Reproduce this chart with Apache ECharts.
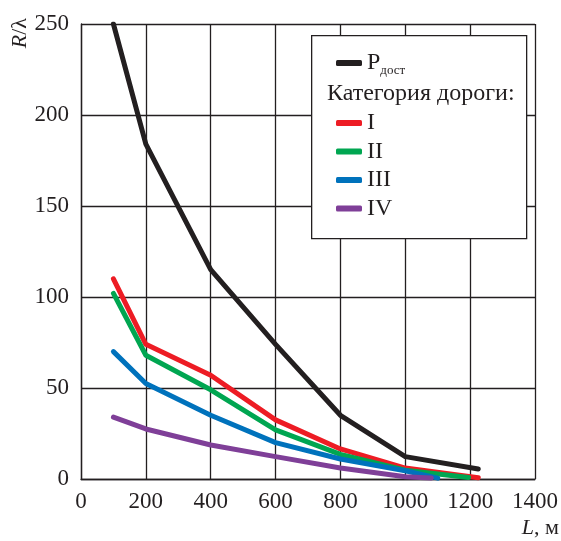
<!DOCTYPE html>
<html><head><meta charset="utf-8">
<script src="https://cdn.jsdelivr.net/npm/echarts@6/dist/echarts.min.js"></script>
<style>html,body{margin:0;padding:0;background:#fff}#c{width:561px;height:541px}</style>
</head><body><div id="c"></div>
<script>
const xTicks = [0,200,400,600,800,1000,1200,1400];
const yTicks = [0,50,100,150,200,250];
const seriesNames = ['Pдост','I','II','III','IV'];
const lenP   = [100,200,400,600,800,1000,1225];
const valP   = [250,184,115,74,35,12.3,5.5];
const lenI   = [100,200,400,600,800,1000,1225];
const valI   = [110,74,57,32.5,16.5,6,0.7];
const lenII  = [100,200,400,600,800,1000,1195];
const valII  = [102,68,49,27,13.5,4.8,0.8];
const lenIII = [100,200,400,600,800,1000,1100];
const valIII = [70,52.5,35,20,11,4.5,0.5];
const lenIV  = [100,200,400,600,800,1000,1080];
const valIV  = [34,27.5,18.7,12.3,6,1.2,0.5];
const colors = ['#231f20','#ed1c24','#00a651','#0072bc','#7f3f98'];

const pairs = (xs, ys) => xs.map((x,i)=>[x, ys[i]]);
const allData = [pairs(lenP,valP),pairs(lenI,valI),pairs(lenII,valII),pairs(lenIII,valIII),pairs(lenIV,valIV)];
const font = 'Liberation Serif';

const chart = echarts.init(document.getElementById('c'), null, {renderer:'canvas'});
chart.setOption({
  backgroundColor:'#fff',
  animation:false,
  grid:{left:81,right:26,top:24,bottom:62,containLabel:false},
  xAxis:{type:'value',min:0,max:1400,interval:200,
    axisLine:{show:true,onZero:false,lineStyle:{color:'#231f20',width:1.3}},
    axisTick:{show:false},
    axisLabel:{fontFamily:font,fontSize:23,color:'#231f20',margin:11,
      formatter:v=>xTicks.includes(v)?String(v):''},
    splitLine:{show:true,lineStyle:{color:'#231f20',width:1.3}}},
  yAxis:{type:'value',min:0,max:250,interval:50,
    axisLine:{show:true,lineStyle:{color:'#231f20',width:1.3}},
    axisTick:{show:false},
    axisLabel:{fontFamily:font,fontSize:23,color:'#231f20',margin:12,
      formatter:v=>yTicks.includes(v)?String(v):''},
    splitLine:{show:true,lineStyle:{color:'#231f20',width:1.3}}},
  legend:[
    {data:[seriesNames[0]],orient:'vertical',left:331,top:46,itemWidth:26,itemHeight:6,itemGap:8,
     icon:'roundRect',z:10,
     formatter:()=>'{a|P}{b|дост}',
     textStyle:{fontFamily:font,fontSize:24,color:'#231f20',
       rich:{a:{fontFamily:font,fontSize:24,color:'#231f20'},
             b:{fontFamily:font,fontSize:13,color:'#231f20',padding:[16,0,0,0]}}}},
    {data:seriesNames.slice(1),orient:'vertical',left:331,top:106,itemWidth:26,itemHeight:6,itemGap:4.5,
     icon:'roundRect',z:10,
     textStyle:{fontFamily:font,fontSize:24,color:'#231f20',lineHeight:24}}
  ],
  graphic:[
    {type:'rect',left:311,top:35,shape:{width:215,height:203},
     style:{fill:'#fff',stroke:'#231f20',lineWidth:1.3},z:3},
    {type:'text',left:327,top:82,style:{text:'Категория дороги:',font:'24px "Liberation Serif"',fill:'#231f20'},z:10},
    {type:'text',left:9,top:18,rotation:Math.PI/2,
     style:{rich:{i:{fontFamily:font,fontStyle:'italic',fontSize:22,fill:'#231f20'},
                  n:{fontFamily:font,fontSize:22,fill:'#231f20'}},
            text:'{i|R}{n|/λ}'},z:10},
    {type:'text',right:2,top:517,
     style:{rich:{i:{fontFamily:font,fontStyle:'italic',fontSize:22,fill:'#231f20'},
                  n:{fontFamily:font,fontSize:22,fill:'#231f20'}},
            text:'{i|L}{n|, м}'},z:10}
  ],
  series:allData.map((d,i)=>({
    name:seriesNames[i],type:'line',data:d,symbol:'none',smooth:false,
    z:2+i*0.1,
    lineStyle:{color:colors[i],width:5,cap:'round',join:'round'},
    itemStyle:{color:colors[i]}
  }))
});
</script></body></html>
